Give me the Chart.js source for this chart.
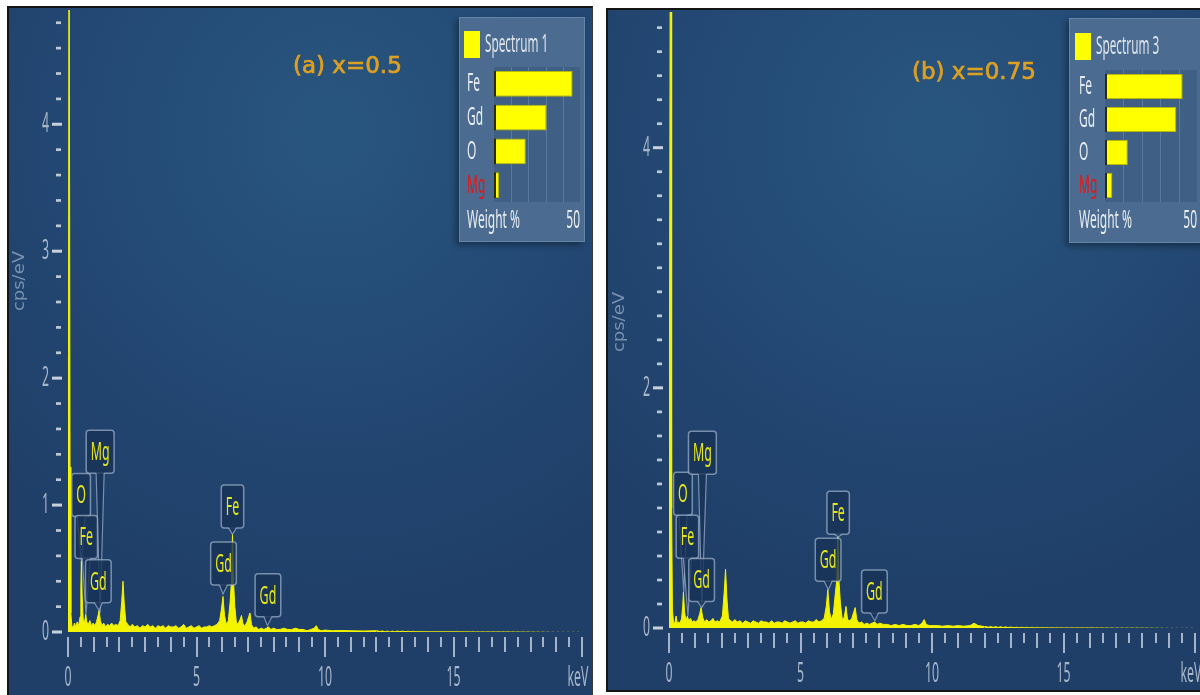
<!DOCTYPE html>
<html>
<head>
<meta charset="utf-8">
<script src="https://cdn.jsdelivr.net/npm/chart.js@4.4.0/dist/chart.umd.min.js"></script>
<style>
  body { margin: 0; width: 1200px; height: 695px; overflow: hidden; position: relative; background: #fff; }
  .panel { position: absolute; box-sizing: border-box;
    background: radial-gradient(ellipse 80% 70% at 55% 18%, #28567f 0%, #234873 55%, #1f3f68 100%); }
  #panelA { left: 7px; top: 6px; width: 586px; height: 689px;
    border-top: 2px solid #151515; border-left: 2px solid #151515; border-right: 1px solid #3a3a3a; }
  #panelB { left: 606px; top: 8px; width: 600px; height: 684px;
    border-top: 2px solid #151515; border-left: 2px solid #151515; border-bottom: 2px solid #151515; }
  .inset { position: absolute; box-sizing: border-box; background: #4b6b90;
    border: 1px solid #6485aa; box-shadow: -3px 3px 6px rgba(0,0,0,0.35); }
  canvas { position: absolute; }
</style>
</head>
<body>
<div id="panelA" class="panel"></div>
<div id="panelB" class="panel"></div>
<canvas id="specA" width="583" height="687" style="left:9px;top:8px"></canvas>
<canvas id="specB" width="592" height="680" style="left:608px;top:10px"></canvas>
<div class="inset" style="left:459px;top:17px;width:126px;height:225px"></div>
<canvas id="insetA" width="126" height="225" style="left:459px;top:17px"></canvas>
<div class="inset" style="left:1069px;top:18px;width:140px;height:225px"></div>
<canvas id="insetB" width="140" height="225" style="left:1069px;top:18px"></canvas>

<script>
// ---- data ----
const panelTitles = ['(a) x=0.5', '(b) x=0.75'];
const spectrumNames = ['Spectrum 1', 'Spectrum 3'];
const xTickValues = [0, 5, 10, 15, 20];
const xTickLabels = ['0', '5', '10', '15', 'keV'];
const yTickValuesA = [0, 1, 2, 3, 4];
const yTickValuesB = [0, 2, 4];

// spectrum (a): energy in keV, counts in cps/eV
const energyA = [
  0.00, 0.02, 0.04, 0.06, 0.08, 0.11, 0.15, 0.20, 0.25, 0.30,
  0.36, 0.42, 0.47, 0.50, 0.52, 0.55, 0.59, 0.64, 0.69, 0.73,
  0.79, 0.85, 0.91, 0.98, 1.05, 1.11, 1.17, 1.21, 1.26, 1.32,
  1.39, 1.46, 1.54, 1.62, 1.70, 1.78, 1.86, 1.95, 2.03, 2.09,
  2.14, 2.19, 2.25, 2.33, 2.41, 2.50, 2.60, 2.70, 2.80, 2.90,
  3.00, 3.10, 3.20, 3.30, 3.40, 3.50, 3.60, 3.70, 3.80, 3.90,
  4.00, 4.10, 4.20, 4.30, 4.40, 4.50, 4.60, 4.70, 4.80, 4.90,
  5.00, 5.10, 5.20, 5.30, 5.40, 5.50, 5.60, 5.70, 5.80, 5.90,
  5.97, 6.03, 6.09, 6.16, 6.24, 6.31, 6.36, 6.40, 6.44, 6.49,
  6.56, 6.63, 6.70, 6.75, 6.81, 6.89, 6.97, 7.03, 7.08, 7.14,
  7.22, 7.32, 7.42, 7.52, 7.62, 7.72, 7.80, 7.90, 8.00, 8.12,
  8.25, 8.40, 8.55, 8.70, 8.85, 9.00, 9.15, 9.30, 9.45, 9.58,
  9.66, 9.74, 9.85, 10.0, 10.3, 10.6, 11.0, 11.5, 12.0, 12.5,
  13.0, 14.0, 15.0, 16.0, 17.0, 18.0, 19.0, 20.0
];
const countsA = [
  0.00, 2.2, 6.0, 6.0, 1.3, 0.15, 0.05, 0.03, 0.07, 0.04,
  0.08, 0.05, 0.12, 0.35, 0.56, 0.30, 0.10, 0.07, 0.14, 0.08,
  0.06, 0.09, 0.05, 0.07, 0.05, 0.08, 0.13, 0.17, 0.09, 0.05,
  0.07, 0.04, 0.06, 0.05, 0.07, 0.05, 0.06, 0.05, 0.09, 0.24,
  0.40, 0.22, 0.08, 0.06, 0.04, 0.06, 0.04, 0.05, 0.03, 0.05,
  0.04, 0.06, 0.04, 0.05, 0.03, 0.05, 0.04, 0.05, 0.03, 0.05,
  0.04, 0.04, 0.05, 0.03, 0.04, 0.06, 0.03, 0.04, 0.05, 0.03,
  0.04, 0.05, 0.03, 0.04, 0.04, 0.05, 0.04, 0.05, 0.06, 0.09,
  0.18, 0.28, 0.13, 0.06, 0.09, 0.24, 0.40, 0.77, 0.40, 0.20,
  0.06, 0.07, 0.10, 0.13, 0.06, 0.05, 0.08, 0.12, 0.15, 0.06,
  0.03, 0.04, 0.02, 0.03, 0.02, 0.03, 0.04, 0.02, 0.03, 0.02,
  0.02, 0.03, 0.02, 0.02, 0.03, 0.02, 0.02, 0.01, 0.02, 0.03,
  0.05, 0.02, 0.01, 0.015, 0.01, 0.012, 0.01, 0.008, 0.01, 0.006,
  0.008, 0.005, 0.005, 0.004, 0.003, 0.002, 0.0, 0.0
];

// spectrum (b)
const energyB = [
  0.00, 0.02, 0.05, 0.08, 0.10, 0.13, 0.17, 0.22, 0.27, 0.31,
  0.36, 0.42, 0.48, 0.52, 0.55, 0.59, 0.64, 0.70, 0.75, 0.82,
  0.88, 0.95, 1.02, 1.10, 1.17, 1.22, 1.28, 1.35, 1.43, 1.51,
  1.59, 1.67, 1.75, 1.84, 1.93, 2.03, 2.10, 2.15, 2.20, 2.26,
  2.34, 2.42, 2.50, 2.60, 2.70, 2.80, 2.90, 3.00, 3.10, 3.20,
  3.30, 3.40, 3.50, 3.60, 3.70, 3.80, 3.90, 4.00, 4.10, 4.20,
  4.30, 4.40, 4.50, 4.60, 4.70, 4.80, 4.90, 5.00, 5.10, 5.20,
  5.30, 5.40, 5.50, 5.60, 5.70, 5.80, 5.90, 5.98, 6.04, 6.10,
  6.17, 6.25, 6.33, 6.38, 6.42, 6.46, 6.52, 6.59, 6.66, 6.73,
  6.79, 6.87, 6.95, 7.02, 7.08, 7.14, 7.22, 7.32, 7.42, 7.52,
  7.62, 7.72, 7.82, 7.92, 8.02, 8.15, 8.30, 8.45, 8.60, 8.75,
  8.90, 9.05, 9.20, 9.35, 9.50, 9.62, 9.70, 9.78, 9.90, 10.05,
  10.2, 10.4, 10.6, 10.8, 11.0, 11.2, 11.45, 11.6, 11.75, 12.0,
  12.5, 13.0, 14.0, 15.0, 16.0, 17.0, 18.0, 19.0, 20.0
];
const countsB = [
  0.00, 2.5, 6.0, 6.0, 1.0, 0.15, 0.05, 0.04, 0.10, 0.04,
  0.05, 0.04, 0.08, 0.18, 0.30, 0.14, 0.06, 0.10, 0.06, 0.08,
  0.05, 0.06, 0.05, 0.07, 0.12, 0.17, 0.09, 0.05, 0.07, 0.05,
  0.06, 0.08, 0.05, 0.06, 0.05, 0.10, 0.30, 0.49, 0.25, 0.08,
  0.06, 0.05, 0.07, 0.05, 0.06, 0.04, 0.06, 0.05, 0.04, 0.06,
  0.05, 0.04, 0.06, 0.05, 0.05, 0.04, 0.06, 0.04, 0.05, 0.05,
  0.04, 0.06, 0.05, 0.04, 0.05, 0.06, 0.04, 0.05, 0.05, 0.04,
  0.06, 0.05, 0.05, 0.07, 0.05, 0.06, 0.08, 0.18, 0.32, 0.14,
  0.07, 0.12, 0.30, 0.40, 0.76, 0.40, 0.20, 0.07, 0.09, 0.18,
  0.07, 0.06, 0.08, 0.13, 0.17, 0.07, 0.04, 0.05, 0.03, 0.04,
  0.03, 0.04, 0.05, 0.03, 0.04, 0.03, 0.03, 0.02, 0.03, 0.02,
  0.03, 0.02, 0.02, 0.03, 0.02, 0.04, 0.07, 0.03, 0.02, 0.02,
  0.02, 0.015, 0.02, 0.015, 0.02, 0.015, 0.02, 0.04, 0.02, 0.012,
  0.01, 0.008, 0.006, 0.005, 0.004, 0.003, 0.002, 0.0, 0.0
];

// peak labels: text, box centre (keV) and box bottom (cps/eV), pointer tip (keV, cps/eV)
const calloutText = ['O', 'Mg', 'Fe', 'Gd', 'Gd', 'Fe', 'Gd'];
const boxKeVA = [0.51, 1.25, 0.71, 1.18, 6.05, 6.40, 7.78];
const boxCpsA = [0.91, 1.25, 0.58, 0.23, 0.37, 0.82, 0.12];
const tipKeVA = [0.52, 1.25, 0.70, 1.21, 6.03, 6.40, 7.76];
const tipCpsA = [0.56, 0.15, 0.14, 0.17, 0.30, 0.77, 0.05];
const boxKeVB = [0.53, 1.27, 0.70, 1.24, 6.05, 6.43, 7.81];
const boxCpsB = [0.94, 1.28, 0.58, 0.22, 0.39, 0.78, 0.125];
const tipKeVB = [0.56, 1.25, 0.72, 1.24, 6.06, 6.44, 7.83];
const tipCpsB = [0.30, 0.17, 0.10, 0.17, 0.32, 0.76, 0.06];

// weight % inset
const insetElements = ['Fe', 'Gd', 'O', 'Mg'];
const weightA = [45.7, 30.6, 18.5, 2.9];
const weightB = [42.2, 38.8, 12.4, 4.0];

// ---- drawing helpers ----
function txt(ctx, s, x, y, o) {
    ctx.save();
    ctx.font = (o.weight || 'normal') + ' ' + o.size + 'px ' + (o.family || '"Noto Sans", sans-serif');
    ctx.fillStyle = o.color;
    ctx.textAlign = o.align || 'left';
    ctx.textBaseline = 'middle';
    ctx.translate(x, y);
    if (o.rot) ctx.rotate(o.rot);
    ctx.scale(o.sx || 1, o.sy || 1);
    ctx.fillText(s, 0, 0);
    if (o.stroke) {
        ctx.strokeStyle = o.color;
        ctx.lineWidth = o.stroke;
        ctx.strokeText(s, 0, 0);
    }
    ctx.restore();
}

function roundBox(ctx, x, y, w, h, r) {
    ctx.beginPath();
    ctx.moveTo(x + r, y);
    ctx.arcTo(x + w, y, x + w, y + h, r);
    ctx.arcTo(x + w, y + h, x, y + h, r);
    ctx.arcTo(x, y + h, x, y, r);
    ctx.arcTo(x, y, x + w, y, r);
    ctx.closePath();
}

function drawCallout(ctx, xs, ys, text, bx, by, tx, ty) {
    const cx = xs.getPixelForValue(bx), bottom = ys.getPixelForValue(by);
    const px = xs.getPixelForValue(tx), py = ys.getPixelForValue(ty);
    ctx.save();
    ctx.font = '20px "Noto Sans", sans-serif';
    const w = ctx.measureText(text).width * 0.62 + 9;
    const h = 43;
    const left = cx - w / 2, top = bottom - h;
    roundBox(ctx, left, top, w, h, 3);
    ctx.fillStyle = 'rgba(24,50,86,0.8)';
    ctx.fill();
    ctx.strokeStyle = 'rgba(160,180,205,0.7)';
    ctx.lineWidth = 1.5;
    ctx.stroke();
    // pointer
    ctx.beginPath();
    ctx.moveTo(cx - 4, bottom - 1);
    ctx.lineTo(px, py);
    ctx.lineTo(cx + 4, bottom - 1);
    ctx.closePath();
    ctx.fillStyle = 'rgba(24,50,86,0.8)';
    ctx.fill();
    ctx.beginPath();
    ctx.moveTo(cx - 4, bottom);
    ctx.lineTo(px, py);
    ctx.lineTo(cx + 4, bottom);
    ctx.lineWidth = 1.2;
    ctx.stroke();
    ctx.restore();
    txt(ctx, text, cx, top + h / 2 + 1, { size: 20, sx: 0.62, sy: 1.3, color: '#e6e61e', align: 'center' });
}

function spectrumDecor(cfg) {
    return {
        id: 'specDecor',
        beforeDatasetsDraw(chart) {
            const ctx = chart.ctx, xs = chart.scales.x, ys = chart.scales.y;
            const left = chart.chartArea.left;
            const base = ys.getPixelForValue(0);
            const tickFont = { size: 22, sx: 0.56, sy: 1.25, color: '#a8b6c9' };
            // y ticks: dashes at labelled values, dots every 0.2
            for (let i = 0; i / 5 <= ys.max; i++) {
                const v = i / 5;
                const py = ys.getPixelForValue(v);
                if (cfg.yTicks.includes(v)) {
                    ctx.fillStyle = '#c8d0da';
                    ctx.fillRect(left - 16, py - 1.5, 10, 3);
                    txt(ctx, String(v), left - 19, py, Object.assign({ align: 'right' }, tickFont));
                } else {
                    ctx.fillStyle = '#c0c8d3';
                    ctx.fillRect(left - 12, py - 1.3, 5, 2.7);
                }
            }
            // x ticks every 0.5 keV
            ctx.save();
            ctx.strokeStyle = '#a4b3c7';
            ctx.lineWidth = 2;
            for (let i = 0; i <= 40; i++) {
                const v = i / 2;
                const px = Math.round(xs.getPixelForValue(v));
                const len = v % 5 === 0 ? 20 : (Number.isInteger(v) ? 15 : 10);
                ctx.beginPath();
                ctx.moveTo(px, base + 5);
                ctx.lineTo(px, base + 5 + len);
                ctx.stroke();
            }
            ctx.restore();
            xTickValues.forEach((v, i) => {
                const off = v === 20 ? -4 : 0;
                txt(ctx, xTickLabels[i], xs.getPixelForValue(v) + off, base + 46,
                    Object.assign({ align: 'center' }, tickFont));
            });
            // axis title
            txt(ctx, 'cps/eV', cfg.yTitle[0], cfg.yTitle[1],
                { size: 15, sx: 1.2, family: '"DejaVu Sans", sans-serif', color: '#7890ad', align: 'center', rot: -Math.PI / 2 });
            // panel title
            txt(ctx, cfg.title, cfg.titlePos[0], cfg.titlePos[1],
                { size: 23, family: '"DejaVu Sans", sans-serif', color: '#dea022', stroke: 0.7 });
        },
        afterDatasetsDraw(chart) {
            const ctx = chart.ctx, xs = chart.scales.x, ys = chart.scales.y;
            calloutText.forEach((t, i) => {
                drawCallout(ctx, xs, ys, t, cfg.boxKeV[i], cfg.boxCps[i], cfg.tipKeV[i], cfg.tipCps[i]);
            });
        }
    };
}

function makeSpectrum(id, energies, counts, yMax, padding, cfg) {
    const points = energies.map((e, i) => ({ x: e, y: counts[i] }));
    return new Chart(document.getElementById(id), {
        type: 'scatter',
        data: {
            datasets: [{
                data: points,
                showLine: true,
                fill: 'origin',
                backgroundColor: '#f4f400',
                borderColor: '#f4f400',
                borderWidth: 1,
                pointRadius: 0,
                tension: 0,
                segment: {
                    borderColor: c => c.p0.parsed.x >= 13 ? 'rgba(190,190,40,0.55)' : undefined,
                    borderDash: c => c.p0.parsed.x >= 12 ? [2, 3] : undefined
                }
            }]
        },
        options: {
            responsive: false,
            animation: false,
            events: [],
            layout: { padding: padding },
            plugins: { legend: { display: false }, tooltip: { enabled: false } },
            scales: {
                x: { type: 'linear', min: 0, max: 20, display: false },
                y: { type: 'linear', min: 0, max: yMax, display: false }
            }
        },
        plugins: [spectrumDecor(cfg)]
    });
}

function insetDecor(cfg) {
    return {
        id: 'insetDecor',
        beforeDatasetsDraw(chart) {
            const ctx = chart.ctx, xs = chart.scales.x, a = chart.chartArea;
            ctx.fillStyle = '#3f5f84';
            ctx.fillRect(a.left, a.top, a.right - a.left, a.bottom - a.top);
            ctx.strokeStyle = '#587a9e';
            ctx.lineWidth = 1;
            [10, 20, 30, 40].forEach(v => {
                const px = Math.round(xs.getPixelForValue(v)) + 0.5;
                ctx.beginPath();
                ctx.moveTo(px, a.top);
                ctx.lineTo(px, a.bottom);
                ctx.stroke();
            });
        },
        afterDatasetsDraw(chart) {
            const ctx = chart.ctx, xs = chart.scales.x, ys = chart.scales.y;
            const meta = chart.getDatasetMeta(0);
            ctx.fillStyle = '#2b2b12';
            meta.data.forEach(bar => {
                ctx.fillRect(bar.base, bar.y - bar.height / 2, 2, bar.height);
            });
            const f = { size: 20, sx: 0.6, sy: 1.3 };
            insetElements.forEach((el, i) => {
                txt(ctx, el, cfg.labelX, ys.getPixelForValue(i),
                    Object.assign({ color: el === 'Mg' ? '#e01818' : '#e8edf3' }, f));
            });
            // header
            ctx.fillStyle = '#ffff00';
            ctx.fillRect(cfg.square[0], cfg.square[1], 16, 27);
            txt(ctx, cfg.name, cfg.square[0] + 21, cfg.square[1] + 14,
                { size: 19, sx: 0.62, sy: 1.3, color: '#dde4ec' });
            // footer
            txt(ctx, 'Weight %', cfg.labelX, cfg.footY, Object.assign({ color: '#e8edf3' }, f));
            txt(ctx, '50', xs.getPixelForValue(50), cfg.footY, Object.assign({ color: '#e8edf3', align: 'right' }, f));
        }
    };
}

function makeInset(id, weights, padding, cfg) {
    return new Chart(document.getElementById(id), {
        type: 'bar',
        data: {
            labels: insetElements,
            datasets: [{
                data: weights,
                backgroundColor: '#ffff00',
                borderColor: '#b8b800',
                borderWidth: 1,
                borderSkipped: false,
                barPercentage: 0.76,
                categoryPercentage: 1
            }]
        },
        options: {
            indexAxis: 'y',
            responsive: false,
            animation: false,
            events: [],
            layout: { padding: padding },
            plugins: { legend: { display: false }, tooltip: { enabled: false } },
            scales: {
                x: { min: 0, max: 50, display: false },
                y: { display: false }
            }
        },
        plugins: [insetDecor(cfg)]
    });
}

makeSpectrum('specA', energyA, countsA, 4.9, { left: 59, right: 10, top: 2, bottom: 63 }, {
    yTicks: yTickValuesA, title: panelTitles[0], titlePos: [284, 59], yTitle: [11, 273],
    boxKeV: boxKeVA, boxCps: boxCpsA, tipKeV: tipKeVA, tipCps: tipCpsA
});
makeSpectrum('specB', energyB, countsB, 5.13, { left: 61, right: 5, top: 2, bottom: 62 }, {
    yTicks: yTickValuesB, title: panelTitles[1], titlePos: [304, 63], yTitle: [12, 312],
    boxKeV: boxKeVB, boxCps: boxCpsB, tipKeV: tipKeVB, tipCps: tipCpsB
});
makeInset('insetA', weightA, { left: 35, right: 5, top: 50, bottom: 40 },
    { name: spectrumNames[0], labelX: 8, square: [5, 14], footY: 204 });
makeInset('insetB', weightB, { left: 36, right: 12, top: 52, bottom: 41 },
    { name: spectrumNames[1], labelX: 10, square: [6, 15], footY: 203 });
</script>
</body>
</html>
